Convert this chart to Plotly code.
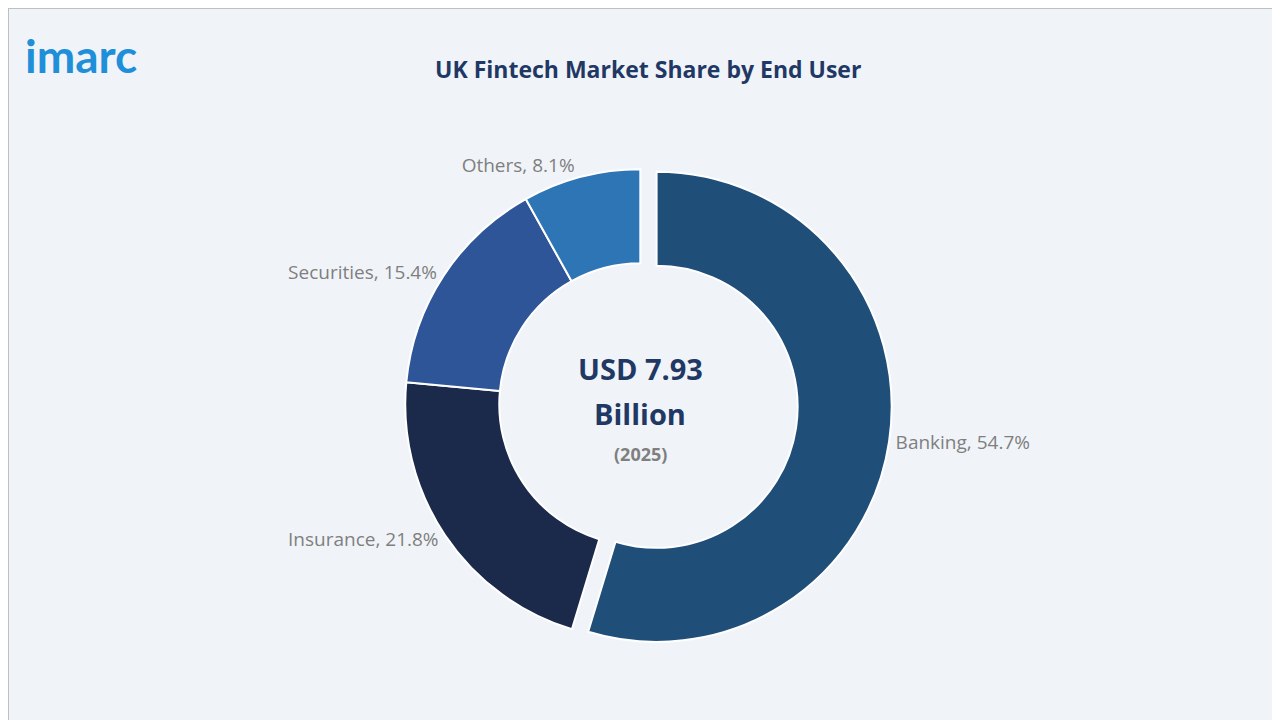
import plotly.graph_objects as go

segments = ["Banking", "Insurance", "Securities", "Others"]
shares = [54.7, 21.8, 15.4, 8.1]
colours = ["#1f4e79", "#1b2a4a", "#2e5597", "#2e75b6"]
labels = [f"{s}, {v}%" for s, v in zip(segments, shares)]

fig = go.Figure(
    go.Pie(
        labels=segments,
        values=shares,
        text=labels,
        textinfo="text",
        textposition="outside",
        textfont=dict(size=19, color="#7f7f7f", family="Open Sans, sans-serif"),
        hole=0.6,
        sort=False,
        direction="clockwise",
        rotation=0,
        pull=[0.07, 0, 0, 0],
        marker=dict(colors=colours, line=dict(color="white", width=2)),
        showlegend=False,
        domain=dict(x=[0.2975, 0.6905], y=[0.0995, 0.7995]),
    )
)

fig.update_layout(
    width=1280,
    height=720,
    margin=dict(l=0, r=0, t=0, b=0),
    paper_bgcolor="#f0f4f9",
    plot_bgcolor="#f0f4f9",
    font=dict(family="Open Sans, sans-serif"),
    shapes=[
        dict(type="rect", xref="paper", yref="paper", x0=0, y0=0, x1=1, y1=1,
             line=dict(color="#bfbfbf", width=2)),
    ],
    annotations=[
        dict(text="<b>UK Fintech Market Share by End User</b>", x=0.5, y=0.94,
             xref="paper", yref="paper", showarrow=False,
             font=dict(size=23, color="#1f3864")),
        dict(text="<b>imarc</b>", x=0.012, y=0.975, xref="paper", yref="paper",
             xanchor="left", yanchor="top", showarrow=False,
             font=dict(size=46, color="#1e8fd8", family="Lato, sans-serif")),
        dict(text="<b>USD 7.93</b>", x=0.494, y=0.5, xref="paper", yref="paper",
             showarrow=False, font=dict(size=29, color="#1f3864")),
        dict(text="<b>Billion</b>", x=0.494, y=0.437, xref="paper", yref="paper",
             showarrow=False, font=dict(size=29, color="#1f3864")),
        dict(text="<b>(2025)</b>", x=0.494, y=0.38, xref="paper", yref="paper",
             showarrow=False, font=dict(size=18, color="#7f7f7f")),
    ],
)

fig.write_html("out.html")
